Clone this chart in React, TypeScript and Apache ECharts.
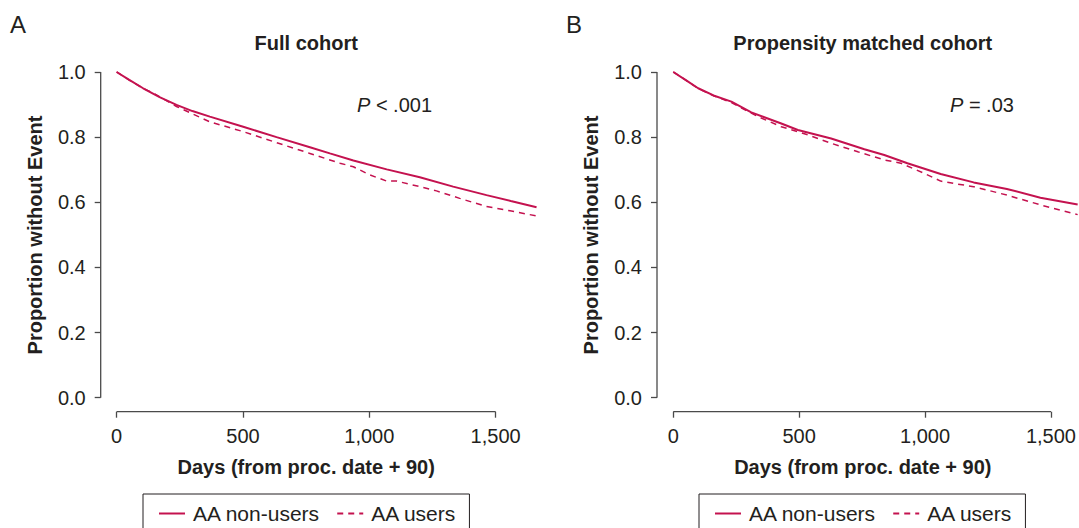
import React, { useEffect, useRef } from "react";
import * as echarts from "echarts";

// ---- Data ----
const leftNonUsersDays = [0, 50, 105, 170, 237, 300, 369, 501, 633, 765, 844, 937, 1069, 1200, 1332, 1464, 1560, 1662];
const leftNonUsersSurv = [1.0, 0.976, 0.95, 0.923, 0.899, 0.88, 0.863, 0.832, 0.8, 0.769, 0.75, 0.728, 0.701, 0.677, 0.648, 0.622, 0.604, 0.585];
const leftUsersDays = [0, 50, 100, 145, 237, 369, 501, 633, 765, 844, 884, 937, 1002, 1069, 1108, 1200, 1266, 1358, 1464, 1557, 1662];
const leftUsersSurv = [1.0, 0.975, 0.952, 0.935, 0.894, 0.847, 0.817, 0.783, 0.75, 0.73, 0.72, 0.709, 0.684, 0.665, 0.665, 0.648, 0.635, 0.612, 0.587, 0.574, 0.558];

const rightNonUsersDays = [0, 50, 99, 160, 231, 310, 429, 495, 627, 759, 838, 930, 1062, 1193, 1325, 1458, 1606];
const rightNonUsersSurv = [1.0, 0.975, 0.95, 0.928, 0.909, 0.876, 0.842, 0.822, 0.796, 0.763, 0.745, 0.72, 0.687, 0.661, 0.641, 0.614, 0.593];
const rightUsersDays = [0, 50, 99, 160, 231, 336, 429, 535, 627, 733, 838, 904, 996, 1062, 1128, 1193, 1325, 1458, 1606];
const rightUsersSurv = [1.0, 0.975, 0.949, 0.927, 0.906, 0.863, 0.832, 0.807, 0.781, 0.755, 0.73, 0.72, 0.689, 0.665, 0.656, 0.648, 0.622, 0.592, 0.562];

const xTicks = [0, 500, 1000, 1500];
const yTicks = [0, 0.2, 0.4, 0.6, 0.8, 1.0];
const xAxisSpan = [0, 1500];
const yAxisSpan = [0, 1];
const seriesNames = ["AA non-users", "AA users"];
const panelTitles = ["Full cohort", "Propensity matched cohort"];
const panelLetters = ["A", "B"];
const pLabels = ["< .001", "= .03"];
const xTitle = "Days (from proc. date + 90)";
const yTitle = "Proportion without Event";

// ---- Style ----
const FONT = "'Liberation Sans', Arial, Helvetica, sans-serif";
const TEXT = "#231f20";
const AXIS = "#4a4a4a";
const RED = "#c4124f";
const Y_MIN = -0.043;
const Y_MAX = 1.05;
const X_MIN = [-63, -64.5];
const X_MAX = [1700, 1610];

const zip = (a: number[], b: number[]) => a.map((v, i) => [v, b[i]]);

export default function App() {
  const ref = useRef<HTMLDivElement>(null);
  useEffect(() => {
    if (!ref.current) return;
    const chart = echarts.init(ref.current, undefined, { renderer: "svg" });

    const grids = [
      { left: 100.7, top: 55.7, width: 445.45, height: 356 },
      { left: 657, top: 55.7, width: 423.1, height: 356 },
    ];

    const xAxes = [0, 1].map((i) => ({
      type: "value",
      gridIndex: i,
      min: X_MIN[i],
      max: X_MAX[i],
      axisLine: { show: false, onZero: false },
      splitLine: { show: false },
      axisTick: { show: true, customValues: xTicks, length: 6, lineStyle: { color: AXIS, width: 1.3 } },
      axisLabel: {
        customValues: xTicks,
        formatter: (v: number) => v.toLocaleString("en-US"),
        margin: 14,
        fontSize: 20,
        color: TEXT,
        fontFamily: FONT,
      },
    }));

    const yAxes = [0, 1].map((i) => ({
      type: "value",
      gridIndex: i,
      min: Y_MIN,
      max: Y_MAX,
      axisLine: { show: false, onZero: false },
      splitLine: { show: false },
      axisTick: { show: true, customValues: yTicks, length: 6, lineStyle: { color: AXIS, width: 1.3 } },
      axisLabel: {
        customValues: yTicks,
        formatter: (v: number) => v.toFixed(1),
        margin: 15,
        fontSize: 20,
        color: TEXT,
        fontFamily: FONT,
      },
    }));

    const curve = (i: number, name: string, days: number[], surv: number[], dashed: boolean) => ({
      type: "line",
      name,
      xAxisIndex: i,
      yAxisIndex: i,
      data: zip(days, surv),
      symbol: "none",
      showSymbol: false,
      smooth: false,
      lineStyle: { color: RED, width: dashed ? 1.5 : 2, type: dashed ? [6, 5] : "solid" },
      itemStyle: { color: RED },
      z: dashed ? 3 : 4,
    });

    const axisSpan = (i: number) => [
      {
        type: "line",
        name: "xaxis" + i,
        xAxisIndex: i,
        yAxisIndex: i,
        data: xAxisSpan.map((x) => [x, Y_MIN]),
        symbol: "none",
        clip: false,
        silent: true,
        lineStyle: { color: AXIS, width: 1.3 },
        z: 1,
      },
      {
        type: "line",
        name: "yaxis" + i,
        xAxisIndex: i,
        yAxisIndex: i,
        data: yAxisSpan.map((y) => [X_MIN[i], y]),
        symbol: "none",
        clip: false,
        silent: true,
        lineStyle: { color: AXIS, width: 1.3 },
        z: 1,
      },
    ];

    const legendBase = {
      orient: "horizontal",
      top: 494,
      data: seriesNames,
      itemWidth: 26,
      itemHeight: 12,
      itemGap: 16,
      borderColor: TEXT,
      borderWidth: 1,
      borderRadius: 0,
      padding: [9, 13, 9, 15],
      selectedMode: false,
      itemStyle: { opacity: 0 },
      textStyle: { fontSize: 21, color: TEXT, fontFamily: FONT, padding: [0, 0, 0, 3] },
    };

    const centers = [306.2, 862.8];
    const graphic: any[] = [];
    [0, 1].forEach((i) => {
      graphic.push({
        type: "text",
        x: i === 0 ? 10 : 566,
        y: 24,
        style: { text: panelLetters[i], fontSize: 24, fontFamily: FONT, fill: TEXT, align: "left", verticalAlign: "middle" },
      });
      graphic.push({
        type: "text",
        x: centers[i],
        y: 43,
        style: { text: panelTitles[i], fontSize: 20, fontWeight: "bold", fontFamily: FONT, fill: TEXT, align: "center", verticalAlign: "middle" },
      });
      graphic.push({
        type: "text",
        x: centers[i],
        y: 467,
        style: { text: xTitle, fontSize: 20, fontWeight: "bold", fontFamily: FONT, fill: TEXT, align: "center", verticalAlign: "middle" },
      });
      graphic.push({
        type: "text",
        x: i === 0 ? 35 : 591,
        y: 235,
        rotation: Math.PI / 2,
        style: { text: yTitle, fontSize: 20, fontWeight: "bold", fontFamily: FONT, fill: TEXT, align: "center", verticalAlign: "middle" },
      });
      graphic.push({
        type: "text",
        x: i === 0 ? 357 : 950,
        y: 105,
        style: {
          text: "{i|P} " + pLabels[i],
          fontSize: 20,
          fontFamily: FONT,
          fill: TEXT,
          align: "left",
          verticalAlign: "middle",
          rich: { i: { fontStyle: "italic", fontSize: 20, fontFamily: FONT, fill: TEXT } },
        },
      });
    });

    chart.setOption({
      animation: false,
      backgroundColor: "#ffffff",
      grid: grids,
      xAxis: xAxes,
      yAxis: yAxes,
      legend: [
        { ...legendBase, left: 143 },
        { ...legendBase, left: 699 },
      ],
      graphic,
      series: [
        ...axisSpan(0),
        ...axisSpan(1),
        curve(0, seriesNames[1], leftUsersDays, leftUsersSurv, true),
        curve(0, seriesNames[0], leftNonUsersDays, leftNonUsersSurv, false),
        curve(1, seriesNames[1], rightUsersDays, rightUsersSurv, true),
        curve(1, seriesNames[0], rightNonUsersDays, rightNonUsersSurv, false),
      ],
    });
    return () => chart.dispose();
  }, []);

  return (
    <div
      ref={ref}
      style={{ position: "fixed", left: 0, top: 0, width: 1079, height: 528, background: "#fff" }}
    />
  );
}
